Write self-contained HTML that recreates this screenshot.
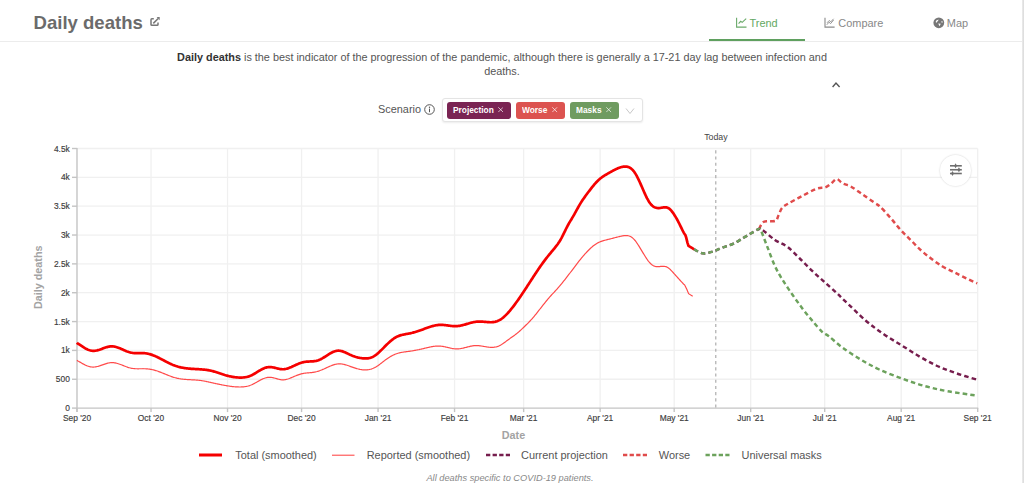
<!DOCTYPE html>
<html><head><meta charset="utf-8"><style>
*{box-sizing:border-box}
html,body{margin:0;padding:0;background:#fff}
body{width:1024px;height:483px;overflow:hidden;position:relative;font-family:"Liberation Sans",sans-serif;color:#555}
.abs{position:absolute;white-space:nowrap}
.title{left:33.6px;top:11.3px;font-size:18.55px;font-weight:bold;color:#6b6b6b;line-height:24px}
.sep{left:0;top:41px;width:1022px;height:1px;background:#ececec}
.rb{left:1022px;top:0;width:2px;height:483px;background:linear-gradient(to right,#ececec,#dadada)}
.tab{font-size:10.95px;color:#888;line-height:14px;top:15.8px}
.tab.on{color:#62a862}
.uline{left:708.5px;top:39px;width:96.5px;height:2px;background:#5fa05f}
.desc{left:0;width:1004px;top:49.7px;text-align:center;font-size:10.85px;line-height:14.3px;color:#555}
.desc b{color:#333}
.scn{left:378px;top:102.2px;font-size:10.9px;color:#555;line-height:14px}
.box{left:441.5px;top:98.2px;width:201px;height:23.5px;border:1px solid #e4e4e4;border-radius:3px;box-shadow:0 1px 2px rgba(0,0,0,0.08);background:#fff}
.chip{top:101.5px;height:17px;border-radius:3px;color:#fff;font-weight:bold;font-size:9.6px;line-height:17px;padding-left:6.3px}
.chip b{display:inline-block;transform:scaleX(0.87);transform-origin:0 50%;position:relative;top:-0.3px}
.chip svg{position:absolute;right:7.1px;top:5.7px}
svg text{font-family:"Liberation Sans",sans-serif}
.tk{font-size:8.4px;fill:#3c3c3c;stroke:#3c3c3c;stroke-width:0.15px}
.tdy{font-size:8.8px;fill:#444}
.axt{font-size:10.8px;fill:#a3a3a3;font-weight:bold}
.leg{top:449.2px;font-size:10.95px;color:#555;line-height:13px}
.foot{left:0;width:1020px;top:472.3px;text-align:center;font-size:9.25px;font-style:italic;color:#888;line-height:12px}
</style></head><body>
<div class="abs title">Daily deaths</div>
<svg class="abs" style="left:146px;top:13px" width="18" height="17" viewBox="0 0 18 17"><path d="M7.8,5.8 H5.9 Q5,5.8 5,6.7 V11.4 Q5,12.3 5.9,12.3 H11.1 Q12,12.3 12,11.4 V9.4" fill="none" stroke="#777" stroke-width="1.5"/><path d="M7.3,10.4 L12.2,5.5" stroke="#777" stroke-width="1.5"/><path d="M10.6,4.1 H13.7 V7.2 Z" fill="#777"/></svg>
<div class="abs sep"></div>
<div class="abs uline"></div>
<svg class="abs" style="left:735px;top:17px" width="12" height="11" viewBox="0 0 12 11"><path d="M1.6,0.8 V10.1 H11.5" fill="none" stroke="#6aaa6a" stroke-width="1.1"/><path d="M3.6,6.6 L5.7,4.3 L7.2,5.4 L11.2,1.6" fill="none" stroke="#6aaa6a" stroke-width="1.1"/></svg>
<div class="abs tab on" style="left:749.5px">Trend</div>
<svg class="abs" style="left:824px;top:17px" width="12" height="11" viewBox="0 0 12 11"><path d="M1,0.8 V10.1 H10.6" fill="none" stroke="#8a8a8a" stroke-width="1.1"/><path d="M2.8,7.8 L5,5.2 L6.6,6.6 L9.6,3 M3,5.8 L5.2,3.5 L6.8,4.8 L9.6,1.8" fill="none" stroke="#8a8a8a" stroke-width="0.9"/></svg>
<div class="abs tab" style="left:838.3px">Compare</div>
<svg class="abs" style="left:933px;top:17px" width="12" height="12" viewBox="0 0 12 12"><circle cx="5.8" cy="5.8" r="5.4" fill="#777"/><path d="M2.6,5 Q3,2.9 5.6,2.6 Q5.4,3.7 4.6,4.3 Q4,4.9 3.5,5.7 Z M5.2,6.5 L7.7,6.8 L6.6,9.3 Z M8.3,4.2 L9.8,4.4 L9.4,5.7 L8.5,5.5 Z" fill="#fff"/></svg>
<div class="abs tab" style="left:946.8px">Map</div>
<div class="abs desc"><b>Daily deaths</b> is the best indicator of the progression of the pandemic, although there is generally a 17-21 day lag between infection and<br>deaths.</div>
<svg class="abs" style="left:830.5px;top:81px" width="11" height="8" viewBox="0 0 11 8"><path d="M1.6,6 L5,2 L8.6,6" fill="none" stroke="#555" stroke-width="1.4"/></svg>
<div class="abs scn">Scenario</div>
<svg class="abs" style="left:424px;top:103.9px" width="11" height="11" viewBox="0 0 11 11"><circle cx="5.5" cy="5.5" r="4.8" fill="none" stroke="#555" stroke-width="1"/><circle cx="5.5" cy="3.3" r="0.7" fill="#555"/><rect x="5" y="4.6" width="1" height="3.6" fill="#555"/></svg>
<div class="abs box"></div>
<div class="abs chip" style="left:447.2px;width:63.4px;background:#7a2453"><b>Projection</b><svg width="5.4" height="5.4" viewBox="0 0 5.4 5.4"><path d="M0.3,0.3 L5.1,5.1 M5.1,0.3 L0.3,5.1" stroke="rgba(255,255,255,0.75)" stroke-width="0.9"/></svg></div>
<div class="abs chip" style="left:515.5px;width:49.3px;background:#dc5350"><b>Worse</b><svg width="5.4" height="5.4" viewBox="0 0 5.4 5.4"><path d="M0.3,0.3 L5.1,5.1 M5.1,0.3 L0.3,5.1" stroke="rgba(255,255,255,0.75)" stroke-width="0.9"/></svg></div>
<div class="abs chip" style="left:569.9px;width:48.8px;background:#6f9b60"><b>Masks</b><svg width="5.4" height="5.4" viewBox="0 0 5.4 5.4"><path d="M0.3,0.3 L5.1,5.1 M5.1,0.3 L0.3,5.1" stroke="rgba(255,255,255,0.75)" stroke-width="0.9"/></svg></div>
<svg class="abs" style="left:624.5px;top:106.5px" width="10" height="8" viewBox="0 0 10 8"><path d="M1,1.5 L5,6.5 L9,1.5" fill="none" stroke="#c8c8c8" stroke-width="1"/></svg>
<svg class="abs" style="left:0;top:0" width="1024" height="483" viewBox="0 0 1024 483">
<line x1="77.0" y1="379.26" x2="977.7" y2="379.26" stroke="#f0f0f0" stroke-width="1.3"/>
<line x1="77.0" y1="350.41" x2="977.7" y2="350.41" stroke="#f0f0f0" stroke-width="1.3"/>
<line x1="77.0" y1="321.57" x2="977.7" y2="321.57" stroke="#f0f0f0" stroke-width="1.3"/>
<line x1="77.0" y1="292.72" x2="977.7" y2="292.72" stroke="#f0f0f0" stroke-width="1.3"/>
<line x1="77.0" y1="263.88" x2="977.7" y2="263.88" stroke="#f0f0f0" stroke-width="1.3"/>
<line x1="77.0" y1="235.03" x2="977.7" y2="235.03" stroke="#f0f0f0" stroke-width="1.3"/>
<line x1="77.0" y1="206.19" x2="977.7" y2="206.19" stroke="#f0f0f0" stroke-width="1.3"/>
<line x1="77.0" y1="177.34" x2="977.7" y2="177.34" stroke="#f0f0f0" stroke-width="1.3"/>
<line x1="77.0" y1="148.50" x2="977.7" y2="148.50" stroke="#f0f0f0" stroke-width="1.3"/>
<line x1="151.03" y1="148.5" x2="151.03" y2="408.1" stroke="#f0f0f0" stroke-width="1.3"/>
<line x1="227.53" y1="148.5" x2="227.53" y2="408.1" stroke="#f0f0f0" stroke-width="1.3"/>
<line x1="301.56" y1="148.5" x2="301.56" y2="408.1" stroke="#f0f0f0" stroke-width="1.3"/>
<line x1="378.06" y1="148.5" x2="378.06" y2="408.1" stroke="#f0f0f0" stroke-width="1.3"/>
<line x1="454.55" y1="148.5" x2="454.55" y2="408.1" stroke="#f0f0f0" stroke-width="1.3"/>
<line x1="523.65" y1="148.5" x2="523.65" y2="408.1" stroke="#f0f0f0" stroke-width="1.3"/>
<line x1="600.15" y1="148.5" x2="600.15" y2="408.1" stroke="#f0f0f0" stroke-width="1.3"/>
<line x1="674.18" y1="148.5" x2="674.18" y2="408.1" stroke="#f0f0f0" stroke-width="1.3"/>
<line x1="750.67" y1="148.5" x2="750.67" y2="408.1" stroke="#f0f0f0" stroke-width="1.3"/>
<line x1="824.70" y1="148.5" x2="824.70" y2="408.1" stroke="#f0f0f0" stroke-width="1.3"/>
<line x1="901.20" y1="148.5" x2="901.20" y2="408.1" stroke="#f0f0f0" stroke-width="1.3"/>
<line x1="977.70" y1="148.5" x2="977.70" y2="408.1" stroke="#f0f0f0" stroke-width="1.3"/>
<line x1="77.0" y1="148.0" x2="77.0" y2="412.1" stroke="#c4c4c4" stroke-width="1.4"/>
<line x1="77.0" y1="408.1" x2="978.2" y2="408.1" stroke="#c4c4c4" stroke-width="1.4"/>
<line x1="72.0" y1="408.10" x2="77.0" y2="408.10" stroke="#c4c4c4" stroke-width="1.4"/>
<text x="69.8" y="411.1" text-anchor="end" class="tk">0</text>
<line x1="72.0" y1="379.26" x2="77.0" y2="379.26" stroke="#c4c4c4" stroke-width="1.4"/>
<text x="69.8" y="382.3" text-anchor="end" class="tk">500</text>
<line x1="72.0" y1="350.41" x2="77.0" y2="350.41" stroke="#c4c4c4" stroke-width="1.4"/>
<text x="69.8" y="353.4" text-anchor="end" class="tk">1k</text>
<line x1="72.0" y1="321.57" x2="77.0" y2="321.57" stroke="#c4c4c4" stroke-width="1.4"/>
<text x="69.8" y="324.6" text-anchor="end" class="tk">1.5k</text>
<line x1="72.0" y1="292.72" x2="77.0" y2="292.72" stroke="#c4c4c4" stroke-width="1.4"/>
<text x="69.8" y="295.7" text-anchor="end" class="tk">2k</text>
<line x1="72.0" y1="263.88" x2="77.0" y2="263.88" stroke="#c4c4c4" stroke-width="1.4"/>
<text x="69.8" y="266.9" text-anchor="end" class="tk">2.5k</text>
<line x1="72.0" y1="235.03" x2="77.0" y2="235.03" stroke="#c4c4c4" stroke-width="1.4"/>
<text x="69.8" y="238.0" text-anchor="end" class="tk">3k</text>
<line x1="72.0" y1="206.19" x2="77.0" y2="206.19" stroke="#c4c4c4" stroke-width="1.4"/>
<text x="69.8" y="209.2" text-anchor="end" class="tk">3.5k</text>
<line x1="72.0" y1="177.34" x2="77.0" y2="177.34" stroke="#c4c4c4" stroke-width="1.4"/>
<text x="69.8" y="180.3" text-anchor="end" class="tk">4k</text>
<line x1="72.0" y1="148.50" x2="77.0" y2="148.50" stroke="#c4c4c4" stroke-width="1.4"/>
<text x="69.8" y="151.5" text-anchor="end" class="tk">4.5k</text>
<line x1="77.00" y1="408.1" x2="77.00" y2="412.1" stroke="#c4c4c4" stroke-width="1.4"/>
<text x="77.0" y="420.8" text-anchor="middle" class="tk">Sep '20</text>
<line x1="151.03" y1="408.1" x2="151.03" y2="412.1" stroke="#c4c4c4" stroke-width="1.4"/>
<text x="151.0" y="420.8" text-anchor="middle" class="tk">Oct '20</text>
<line x1="227.53" y1="408.1" x2="227.53" y2="412.1" stroke="#c4c4c4" stroke-width="1.4"/>
<text x="227.5" y="420.8" text-anchor="middle" class="tk">Nov '20</text>
<line x1="301.56" y1="408.1" x2="301.56" y2="412.1" stroke="#c4c4c4" stroke-width="1.4"/>
<text x="301.6" y="420.8" text-anchor="middle" class="tk">Dec '20</text>
<line x1="378.06" y1="408.1" x2="378.06" y2="412.1" stroke="#c4c4c4" stroke-width="1.4"/>
<text x="378.1" y="420.8" text-anchor="middle" class="tk">Jan '21</text>
<line x1="454.55" y1="408.1" x2="454.55" y2="412.1" stroke="#c4c4c4" stroke-width="1.4"/>
<text x="454.6" y="420.8" text-anchor="middle" class="tk">Feb '21</text>
<line x1="523.65" y1="408.1" x2="523.65" y2="412.1" stroke="#c4c4c4" stroke-width="1.4"/>
<text x="523.6" y="420.8" text-anchor="middle" class="tk">Mar '21</text>
<line x1="600.15" y1="408.1" x2="600.15" y2="412.1" stroke="#c4c4c4" stroke-width="1.4"/>
<text x="600.1" y="420.8" text-anchor="middle" class="tk">Apr '21</text>
<line x1="674.18" y1="408.1" x2="674.18" y2="412.1" stroke="#c4c4c4" stroke-width="1.4"/>
<text x="674.2" y="420.8" text-anchor="middle" class="tk">May '21</text>
<line x1="750.67" y1="408.1" x2="750.67" y2="412.1" stroke="#c4c4c4" stroke-width="1.4"/>
<text x="750.7" y="420.8" text-anchor="middle" class="tk">Jun '21</text>
<line x1="824.70" y1="408.1" x2="824.70" y2="412.1" stroke="#c4c4c4" stroke-width="1.4"/>
<text x="824.7" y="420.8" text-anchor="middle" class="tk">Jul '21</text>
<line x1="901.20" y1="408.1" x2="901.20" y2="412.1" stroke="#c4c4c4" stroke-width="1.4"/>
<text x="901.2" y="420.8" text-anchor="middle" class="tk">Aug '21</text>
<line x1="977.70" y1="408.1" x2="977.70" y2="412.1" stroke="#c4c4c4" stroke-width="1.4"/>
<text x="977.7" y="420.8" text-anchor="middle" class="tk">Sep '21</text>
<line x1="715.8" y1="150.3" x2="715.8" y2="408" stroke="#a5a5a5" stroke-width="1.1" stroke-dasharray="3.1,3.1"/>
<text x="715.9" y="140.3" text-anchor="middle" class="tdy">Today</text>
<path d="M77.00,360.20 L77.75,360.98 L78.50,361.32 L79.25,361.71 L80.00,362.13 L80.75,362.57 L81.50,363.00 L82.25,363.44 L83.00,363.86 L83.75,364.26 L84.50,364.64 L85.25,365.01 L86.00,365.35 L86.75,365.66 L87.50,365.95 L88.25,366.21 L89.00,366.44 L89.75,366.63 L90.50,366.79 L91.25,366.92 L92.00,367.00 L92.75,367.05 L93.50,367.05 L94.25,367.02 L95.00,366.95 L95.75,366.84 L96.50,366.71 L97.25,366.54 L98.00,366.35 L98.75,366.14 L99.50,365.90 L100.25,365.66 L101.00,365.40 L101.75,365.13 L102.50,364.87 L103.25,364.60 L104.00,364.33 L104.75,364.07 L105.50,363.82 L106.25,363.59 L107.00,363.37 L107.75,363.18 L108.50,363.01 L109.25,362.86 L110.00,362.75 L110.75,362.67 L111.50,362.63 L112.25,362.62 L113.00,362.65 L113.75,362.72 L114.50,362.81 L115.25,362.94 L116.00,363.10 L116.75,363.28 L117.50,363.49 L118.25,363.71 L119.00,363.96 L119.75,364.22 L120.50,364.49 L121.25,364.77 L122.00,365.06 L122.75,365.36 L123.50,365.65 L124.25,365.95 L125.00,366.24 L125.75,366.53 L126.50,366.81 L127.25,367.07 L128.00,367.33 L128.75,367.56 L129.50,367.78 L130.25,367.97 L131.00,368.15 L131.75,368.30 L132.50,368.43 L133.25,368.53 L134.00,368.62 L134.75,368.68 L135.50,368.73 L136.25,368.76 L137.00,368.77 L137.75,368.78 L138.51,368.78 L139.26,368.77 L140.01,368.76 L140.76,368.75 L141.51,368.74 L142.26,368.73 L143.01,368.72 L143.76,368.73 L144.51,368.74 L145.26,368.76 L146.01,368.80 L146.76,368.85 L147.51,368.91 L148.26,368.98 L149.01,369.07 L149.76,369.18 L150.51,369.29 L151.26,369.43 L152.01,369.58 L152.76,369.75 L153.51,369.93 L154.26,370.12 L155.01,370.33 L155.76,370.56 L156.51,370.80 L157.26,371.04 L158.01,371.30 L158.76,371.57 L159.51,371.85 L160.26,372.13 L161.01,372.42 L161.76,372.72 L162.51,373.02 L163.26,373.32 L164.01,373.63 L164.76,373.93 L165.51,374.24 L166.26,374.55 L167.01,374.85 L167.76,375.15 L168.51,375.45 L169.26,375.74 L170.01,376.02 L170.76,376.30 L171.51,376.57 L172.26,376.83 L173.01,377.08 L173.76,377.31 L174.51,377.54 L175.26,377.75 L176.01,377.95 L176.76,378.14 L177.51,378.31 L178.26,378.46 L179.01,378.61 L179.76,378.74 L180.51,378.86 L181.26,378.97 L182.01,379.07 L182.76,379.16 L183.51,379.24 L184.26,379.31 L185.01,379.38 L185.76,379.43 L186.51,379.49 L187.26,379.54 L188.01,379.58 L188.76,379.63 L189.51,379.67 L190.26,379.70 L191.01,379.74 L191.76,379.78 L192.51,379.82 L193.26,379.86 L194.01,379.90 L194.76,379.95 L195.51,380.00 L196.26,380.06 L197.01,380.12 L197.76,380.19 L198.51,380.26 L199.26,380.34 L200.01,380.43 L200.76,380.53 L201.51,380.64 L202.26,380.75 L203.01,380.87 L203.76,381.00 L204.51,381.14 L205.26,381.28 L206.01,381.42 L206.76,381.58 L207.51,381.73 L208.26,381.89 L209.01,382.05 L209.76,382.22 L210.51,382.38 L211.26,382.55 L212.01,382.72 L212.76,382.88 L213.51,383.05 L214.26,383.22 L215.01,383.39 L215.76,383.55 L216.51,383.72 L217.26,383.88 L218.01,384.04 L218.76,384.20 L219.51,384.36 L220.26,384.52 L221.01,384.67 L221.76,384.82 L222.51,384.97 L223.26,385.12 L224.01,385.26 L224.76,385.40 L225.51,385.53 L226.26,385.66 L227.01,385.79 L227.76,385.91 L228.51,386.03 L229.26,386.14 L230.01,386.24 L230.76,386.34 L231.51,386.44 L232.26,386.53 L233.01,386.61 L233.76,386.69 L234.51,386.75 L235.26,386.81 L236.01,386.87 L236.76,386.91 L237.51,386.95 L238.26,386.97 L239.01,386.99 L239.76,387.00 L240.51,386.99 L241.26,386.97 L242.01,386.94 L242.76,386.89 L243.51,386.83 L244.26,386.75 L245.01,386.64 L245.76,386.52 L246.51,386.38 L247.26,386.22 L248.01,386.03 L248.76,385.82 L249.51,385.58 L250.26,385.31 L251.01,385.02 L251.76,384.71 L252.51,384.37 L253.26,384.00 L254.01,383.62 L254.76,383.23 L255.51,382.82 L256.26,382.40 L257.01,381.97 L257.76,381.54 L258.51,381.12 L259.26,380.70 L260.02,380.29 L260.77,379.89 L261.52,379.51 L262.27,379.14 L263.02,378.80 L263.77,378.49 L264.52,378.20 L265.27,377.95 L266.02,377.74 L266.77,377.56 L267.52,377.42 L268.27,377.33 L269.02,377.28 L269.77,377.27 L270.52,377.31 L271.27,377.38 L272.02,377.50 L272.77,377.64 L273.52,377.81 L274.27,378.01 L275.02,378.22 L275.77,378.43 L276.52,378.65 L277.27,378.87 L278.02,379.08 L278.77,379.28 L279.52,379.45 L280.27,379.60 L281.02,379.71 L281.77,379.79 L282.52,379.84 L283.27,379.84 L284.02,379.79 L284.77,379.71 L285.52,379.59 L286.27,379.43 L287.02,379.24 L287.77,379.02 L288.52,378.77 L289.27,378.50 L290.02,378.21 L290.77,377.91 L291.52,377.60 L292.27,377.28 L293.02,376.96 L293.77,376.64 L294.52,376.32 L295.27,376.00 L296.02,375.69 L296.77,375.39 L297.52,375.10 L298.27,374.83 L299.02,374.57 L299.77,374.32 L300.52,374.10 L301.27,373.89 L302.02,373.71 L302.77,373.55 L303.52,373.41 L304.27,373.28 L305.02,373.18 L305.77,373.09 L306.52,373.01 L307.27,372.94 L308.02,372.88 L308.77,372.82 L309.52,372.76 L310.27,372.69 L311.02,372.62 L311.77,372.54 L312.52,372.44 L313.27,372.33 L314.02,372.20 L314.77,372.06 L315.52,371.90 L316.27,371.72 L317.02,371.52 L317.77,371.30 L318.52,371.07 L319.27,370.81 L320.02,370.55 L320.77,370.26 L321.52,369.97 L322.27,369.66 L323.02,369.34 L323.77,369.02 L324.52,368.68 L325.27,368.35 L326.02,368.01 L326.77,367.66 L327.52,367.32 L328.27,366.98 L329.02,366.65 L329.77,366.32 L330.52,366.00 L331.27,365.70 L332.02,365.40 L332.77,365.13 L333.52,364.87 L334.27,364.64 L335.02,364.43 L335.77,364.25 L336.52,364.10 L337.27,363.98 L338.02,363.89 L338.77,363.84 L339.52,363.83 L340.27,363.85 L341.02,363.90 L341.77,363.99 L342.52,364.10 L343.27,364.25 L344.02,364.41 L344.77,364.60 L345.52,364.81 L346.27,365.04 L347.02,365.28 L347.77,365.53 L348.52,365.79 L349.27,366.05 L350.02,366.32 L350.77,366.59 L351.52,366.85 L352.27,367.12 L353.02,367.38 L353.77,367.63 L354.52,367.88 L355.27,368.12 L356.02,368.35 L356.77,368.57 L357.52,368.78 L358.27,368.97 L359.02,369.15 L359.77,369.32 L360.52,369.47 L361.27,369.59 L362.02,369.70 L362.77,369.79 L363.52,369.86 L364.27,369.90 L365.02,369.91 L365.77,369.91 L366.52,369.87 L367.27,369.81 L368.02,369.72 L368.77,369.60 L369.52,369.46 L370.27,369.28 L371.02,369.07 L371.77,368.83 L372.52,368.56 L373.27,368.25 L374.02,367.91 L374.77,367.54 L375.52,367.14 L376.27,366.70 L377.02,366.23 L377.77,365.74 L378.52,365.21 L379.27,364.67 L380.02,364.11 L380.77,363.54 L381.53,362.95 L382.28,362.37 L383.03,361.78 L383.78,361.20 L384.53,360.62 L385.28,360.06 L386.03,359.51 L386.78,358.97 L387.53,358.45 L388.28,357.94 L389.03,357.46 L389.78,356.99 L390.53,356.54 L391.28,356.11 L392.03,355.71 L392.78,355.32 L393.53,354.96 L394.28,354.62 L395.03,354.30 L395.78,354.00 L396.53,353.73 L397.28,353.48 L398.03,353.25 L398.78,353.04 L399.53,352.85 L400.28,352.68 L401.03,352.52 L401.78,352.38 L402.53,352.24 L403.28,352.12 L404.03,352.01 L404.78,351.90 L405.53,351.80 L406.28,351.70 L407.03,351.60 L407.78,351.50 L408.53,351.40 L409.28,351.30 L410.03,351.19 L410.78,351.08 L411.53,350.97 L412.28,350.85 L413.03,350.72 L413.78,350.59 L414.53,350.46 L415.28,350.32 L416.03,350.18 L416.78,350.03 L417.53,349.88 L418.28,349.72 L419.03,349.57 L419.78,349.40 L420.53,349.24 L421.28,349.07 L422.03,348.90 L422.78,348.73 L423.53,348.56 L424.28,348.38 L425.03,348.21 L425.78,348.03 L426.53,347.85 L427.28,347.67 L428.03,347.50 L428.78,347.33 L429.53,347.16 L430.28,347.00 L431.03,346.84 L431.78,346.70 L432.53,346.56 L433.28,346.44 L434.03,346.33 L434.78,346.23 L435.53,346.15 L436.28,346.09 L437.03,346.05 L437.78,346.03 L438.53,346.02 L439.28,346.04 L440.03,346.09 L440.78,346.15 L441.53,346.23 L442.28,346.34 L443.03,346.46 L443.78,346.60 L444.53,346.75 L445.28,346.91 L446.03,347.08 L446.78,347.25 L447.53,347.43 L448.28,347.61 L449.03,347.79 L449.78,347.96 L450.53,348.13 L451.28,348.28 L452.03,348.43 L452.78,348.56 L453.53,348.67 L454.28,348.76 L455.03,348.83 L455.78,348.88 L456.53,348.90 L457.28,348.90 L458.03,348.87 L458.78,348.81 L459.53,348.73 L460.28,348.63 L461.03,348.51 L461.78,348.37 L462.53,348.22 L463.28,348.05 L464.03,347.87 L464.78,347.69 L465.53,347.50 L466.28,347.30 L467.03,347.11 L467.78,346.92 L468.53,346.73 L469.28,346.54 L470.03,346.37 L470.78,346.21 L471.53,346.06 L472.28,345.93 L473.03,345.81 L473.78,345.72 L474.53,345.65 L475.28,345.60 L476.03,345.58 L476.78,345.58 L477.53,345.60 L478.28,345.64 L479.03,345.71 L479.78,345.79 L480.53,345.88 L481.28,345.99 L482.03,346.10 L482.78,346.23 L483.53,346.35 L484.28,346.48 L485.03,346.61 L485.78,346.74 L486.53,346.86 L487.28,346.97 L488.03,347.07 L488.78,347.16 L489.53,347.23 L490.28,347.29 L491.03,347.32 L491.78,347.33 L492.53,347.32 L493.28,347.28 L494.03,347.21 L494.78,347.11 L495.53,346.97 L496.28,346.81 L497.03,346.60 L497.78,346.36 L498.53,346.08 L499.28,345.76 L500.03,345.40 L500.78,344.99 L501.53,344.55 L502.28,344.08 L503.04,343.57 L503.79,343.04 L504.54,342.49 L505.29,341.93 L506.04,341.37 L506.79,340.80 L507.54,340.25 L508.29,339.70 L509.04,339.16 L509.79,338.63 L510.54,338.11 L511.29,337.59 L512.04,337.07 L512.79,336.54 L513.54,336.00 L514.29,335.45 L515.04,334.89 L515.79,334.31 L516.54,333.71 L517.29,333.10 L518.04,332.48 L518.79,331.84 L519.54,331.18 L520.29,330.51 L521.04,329.83 L521.79,329.14 L522.54,328.43 L523.29,327.72 L524.04,327.00 L524.79,326.27 L525.54,325.54 L526.29,324.80 L527.04,324.06 L527.79,323.31 L528.54,322.55 L529.29,321.78 L530.04,321.00 L530.79,320.19 L531.54,319.37 L532.29,318.53 L533.04,317.67 L533.79,316.78 L534.54,315.88 L535.29,314.96 L536.04,314.02 L536.79,313.08 L537.54,312.13 L538.29,311.17 L539.04,310.21 L539.79,309.25 L540.54,308.29 L541.29,307.33 L542.04,306.38 L542.79,305.43 L543.54,304.48 L544.29,303.54 L545.04,302.60 L545.79,301.67 L546.54,300.75 L547.29,299.84 L548.04,298.94 L548.79,298.06 L549.54,297.20 L550.29,296.35 L551.04,295.51 L551.79,294.69 L552.54,293.89 L553.29,293.09 L554.04,292.29 L554.79,291.49 L555.54,290.69 L556.29,289.88 L557.04,289.05 L557.79,288.21 L558.54,287.35 L559.29,286.48 L560.04,285.59 L560.79,284.69 L561.54,283.77 L562.29,282.85 L563.04,281.91 L563.79,280.97 L564.54,280.02 L565.29,279.06 L566.04,278.10 L566.79,277.13 L567.54,276.17 L568.29,275.20 L569.04,274.22 L569.79,273.24 L570.54,272.26 L571.29,271.28 L572.04,270.29 L572.79,269.30 L573.54,268.31 L574.29,267.32 L575.04,266.32 L575.79,265.33 L576.54,264.35 L577.29,263.36 L578.04,262.39 L578.79,261.42 L579.54,260.47 L580.29,259.53 L581.04,258.60 L581.79,257.68 L582.54,256.78 L583.29,255.90 L584.04,255.04 L584.79,254.19 L585.54,253.36 L586.29,252.54 L587.04,251.75 L587.79,250.97 L588.54,250.21 L589.29,249.46 L590.04,248.74 L590.79,248.04 L591.54,247.36 L592.29,246.71 L593.04,246.08 L593.79,245.48 L594.54,244.92 L595.29,244.39 L596.04,243.90 L596.79,243.44 L597.54,243.02 L598.29,242.63 L599.04,242.28 L599.79,241.95 L600.54,241.65 L601.29,241.37 L602.04,241.11 L602.79,240.87 L603.54,240.64 L604.29,240.42 L605.04,240.22 L605.79,240.02 L606.54,239.83 L607.29,239.64 L608.04,239.45 L608.79,239.27 L609.54,239.08 L610.29,238.89 L611.04,238.71 L611.79,238.52 L612.54,238.32 L613.29,238.13 L614.04,237.93 L614.79,237.74 L615.54,237.54 L616.29,237.35 L617.04,237.16 L617.79,236.96 L618.54,236.78 L619.29,236.59 L620.04,236.41 L620.79,236.24 L621.54,236.08 L622.29,235.93 L623.04,235.80 L623.79,235.70 L624.55,235.61 L625.30,235.56 L626.05,235.55 L626.80,235.57 L627.55,235.65 L628.30,235.78 L629.05,235.97 L629.80,236.23 L630.55,236.57 L631.30,237.00 L632.05,237.51 L632.80,238.12 L633.55,238.82 L634.30,239.61 L635.05,240.49 L635.80,241.46 L636.55,242.50 L637.30,243.60 L638.05,244.74 L638.80,245.92 L639.55,247.13 L640.30,248.35 L641.05,249.59 L641.80,250.83 L642.55,252.08 L643.30,253.32 L644.05,254.55 L644.80,255.77 L645.55,256.96 L646.30,258.11 L647.05,259.22 L647.80,260.28 L648.55,261.27 L649.30,262.19 L650.05,263.03 L650.80,263.79 L651.55,264.45 L652.30,265.03 L653.05,265.52 L653.80,265.91 L654.55,266.21 L655.30,266.43 L656.05,266.57 L656.80,266.64 L657.55,266.66 L658.30,266.64 L659.05,266.59 L659.80,266.53 L660.55,266.46 L661.30,266.39 L662.05,266.34 L662.80,266.31 L663.55,266.32 L664.30,266.36 L665.05,266.47 L665.80,266.64 L666.55,266.90 L667.30,267.25 L668.05,267.69 L668.80,268.22 L669.55,268.84 L670.30,269.54 L671.05,270.30 L671.80,271.09 L672.55,271.92 L673.30,272.76 L674.05,273.60 L674.80,274.44 L675.55,275.27 L676.30,276.10 L677.05,276.92 L677.80,277.75 L678.55,278.57 L679.30,279.40 L680.05,280.23 L680.80,281.06 L681.55,281.89 L682.30,282.70 L683.05,283.48 L683.80,284.18 L684.55,284.80 L685.30,286.20 L685.3,286.2 L686.9,289.5 L688.6,293.7 L692.7,296.2" fill="none" stroke="#ff4a4a" stroke-width="1.2"/>
<path d="M77.00,342.70 L77.75,343.61 L78.50,344.01 L79.25,344.46 L80.00,344.95 L80.75,345.46 L81.50,345.97 L82.25,346.48 L83.00,346.97 L83.75,347.44 L84.50,347.89 L85.25,348.32 L86.00,348.73 L86.75,349.10 L87.50,349.44 L88.25,349.76 L89.00,350.03 L89.75,350.27 L90.50,350.47 L91.25,350.63 L92.00,350.74 L92.75,350.81 L93.50,350.84 L94.25,350.82 L95.00,350.77 L95.75,350.67 L96.50,350.54 L97.25,350.37 L98.00,350.17 L98.75,349.96 L99.50,349.72 L100.25,349.46 L101.00,349.19 L101.75,348.91 L102.50,348.63 L103.25,348.35 L104.00,348.07 L104.75,347.80 L105.50,347.54 L106.25,347.29 L107.00,347.07 L107.76,346.87 L108.51,346.70 L109.26,346.56 L110.01,346.45 L110.76,346.38 L111.51,346.35 L112.26,346.36 L113.01,346.41 L113.76,346.50 L114.51,346.62 L115.26,346.78 L116.01,346.97 L116.76,347.19 L117.51,347.43 L118.26,347.70 L119.01,347.99 L119.76,348.29 L120.51,348.60 L121.26,348.93 L122.01,349.26 L122.76,349.59 L123.51,349.93 L124.26,350.26 L125.01,350.59 L125.76,350.90 L126.51,351.21 L127.26,351.50 L128.01,351.77 L128.76,352.03 L129.51,352.25 L130.26,352.46 L131.01,352.63 L131.76,352.78 L132.51,352.90 L133.26,352.99 L134.01,353.06 L134.76,353.11 L135.51,353.13 L136.26,353.14 L137.01,353.14 L137.76,353.13 L138.51,353.12 L139.26,353.10 L140.01,353.08 L140.76,353.07 L141.51,353.06 L142.26,353.07 L143.01,353.09 L143.76,353.12 L144.51,353.18 L145.26,353.25 L146.01,353.35 L146.76,353.47 L147.51,353.61 L148.26,353.77 L149.01,353.95 L149.76,354.15 L150.51,354.37 L151.26,354.61 L152.01,354.87 L152.76,355.14 L153.51,355.43 L154.26,355.74 L155.01,356.05 L155.76,356.38 L156.51,356.73 L157.26,357.08 L158.01,357.44 L158.76,357.81 L159.51,358.19 L160.26,358.58 L161.01,358.96 L161.76,359.36 L162.51,359.75 L163.26,360.15 L164.01,360.55 L164.76,360.94 L165.51,361.34 L166.26,361.73 L167.01,362.12 L167.76,362.50 L168.52,362.88 L169.27,363.24 L170.02,363.60 L170.77,363.96 L171.52,364.30 L172.27,364.62 L173.02,364.94 L173.77,365.24 L174.52,365.53 L175.27,365.80 L176.02,366.06 L176.77,366.30 L177.52,366.53 L178.27,366.75 L179.02,366.95 L179.77,367.14 L180.52,367.32 L181.27,367.49 L182.02,367.64 L182.77,367.78 L183.52,367.91 L184.27,368.04 L185.02,368.15 L185.77,368.25 L186.52,368.35 L187.27,368.44 L188.02,368.52 L188.77,368.59 L189.52,368.66 L190.27,368.72 L191.02,368.78 L191.77,368.83 L192.52,368.88 L193.27,368.93 L194.02,368.97 L194.77,369.01 L195.52,369.06 L196.27,369.10 L197.02,369.14 L197.77,369.18 L198.52,369.22 L199.27,369.27 L200.02,369.31 L200.77,369.36 L201.52,369.42 L202.27,369.48 L203.02,369.54 L203.77,369.61 L204.52,369.69 L205.27,369.77 L206.02,369.86 L206.77,369.96 L207.52,370.07 L208.27,370.20 L209.02,370.33 L209.77,370.47 L210.52,370.62 L211.27,370.79 L212.02,370.97 L212.77,371.16 L213.52,371.36 L214.27,371.58 L215.02,371.80 L215.77,372.03 L216.52,372.26 L217.27,372.51 L218.02,372.75 L218.77,373.01 L219.52,373.26 L220.27,373.51 L221.02,373.77 L221.77,374.02 L222.52,374.27 L223.27,374.51 L224.02,374.75 L224.77,374.99 L225.52,375.21 L226.27,375.43 L227.02,375.64 L227.77,375.84 L228.52,376.03 L229.28,376.21 L230.03,376.38 L230.78,376.54 L231.53,376.68 L232.28,376.82 L233.03,376.94 L233.78,377.06 L234.53,377.16 L235.28,377.25 L236.03,377.33 L236.78,377.40 L237.53,377.46 L238.28,377.50 L239.03,377.54 L239.78,377.56 L240.53,377.56 L241.28,377.55 L242.03,377.53 L242.78,377.49 L243.53,377.43 L244.28,377.35 L245.03,377.25 L245.78,377.13 L246.53,376.98 L247.28,376.81 L248.03,376.61 L248.78,376.38 L249.53,376.12 L250.28,375.83 L251.03,375.51 L251.78,375.16 L252.53,374.79 L253.28,374.38 L254.03,373.96 L254.78,373.52 L255.53,373.06 L256.28,372.60 L257.03,372.13 L257.78,371.66 L258.53,371.20 L259.28,370.74 L260.03,370.30 L260.78,369.87 L261.53,369.47 L262.28,369.08 L263.03,368.72 L263.78,368.39 L264.53,368.09 L265.28,367.83 L266.03,367.60 L266.78,367.41 L267.53,367.25 L268.28,367.15 L269.03,367.08 L269.78,367.06 L270.53,367.07 L271.28,367.13 L272.03,367.22 L272.78,367.35 L273.53,367.49 L274.28,367.66 L275.03,367.85 L275.78,368.04 L276.53,368.23 L277.28,368.43 L278.03,368.61 L278.78,368.78 L279.53,368.93 L280.28,369.06 L281.03,369.16 L281.78,369.22 L282.53,369.25 L283.28,369.23 L284.03,369.18 L284.78,369.09 L285.53,368.96 L286.28,368.80 L287.03,368.60 L287.78,368.37 L288.53,368.12 L289.28,367.84 L290.03,367.54 L290.79,367.23 L291.54,366.91 L292.29,366.57 L293.04,366.23 L293.79,365.88 L294.54,365.54 L295.29,365.19 L296.04,364.85 L296.79,364.51 L297.54,364.19 L298.29,363.87 L299.04,363.57 L299.79,363.28 L300.54,363.01 L301.29,362.76 L302.04,362.54 L302.79,362.33 L303.54,362.15 L304.29,362.00 L305.04,361.87 L305.79,361.77 L306.54,361.68 L307.29,361.62 L308.04,361.56 L308.79,361.53 L309.54,361.49 L310.29,361.46 L311.04,361.43 L311.79,361.40 L312.54,361.35 L313.29,361.29 L314.04,361.21 L314.79,361.12 L315.54,360.99 L316.29,360.84 L317.04,360.65 L317.79,360.43 L318.54,360.17 L319.29,359.88 L320.04,359.55 L320.79,359.19 L321.54,358.79 L322.29,358.38 L323.04,357.94 L323.79,357.48 L324.54,357.00 L325.29,356.52 L326.04,356.03 L326.79,355.54 L327.54,355.06 L328.29,354.58 L329.04,354.12 L329.79,353.66 L330.54,353.23 L331.29,352.82 L332.04,352.44 L332.79,352.08 L333.54,351.76 L334.29,351.47 L335.04,351.23 L335.79,351.02 L336.54,350.86 L337.29,350.75 L338.04,350.70 L338.79,350.69 L339.54,350.73 L340.29,350.82 L341.04,350.97 L341.79,351.15 L342.54,351.38 L343.29,351.64 L344.04,351.93 L344.79,352.25 L345.54,352.58 L346.29,352.93 L347.04,353.29 L347.79,353.65 L348.54,354.01 L349.29,354.37 L350.04,354.72 L350.79,355.05 L351.55,355.37 L352.30,355.68 L353.05,355.98 L353.80,356.25 L354.55,356.52 L355.30,356.76 L356.05,356.99 L356.80,357.20 L357.55,357.40 L358.30,357.58 L359.05,357.74 L359.80,357.89 L360.55,358.02 L361.30,358.13 L362.05,358.23 L362.80,358.31 L363.55,358.37 L364.30,358.42 L365.05,358.44 L365.80,358.44 L366.55,358.42 L367.30,358.37 L368.05,358.29 L368.80,358.18 L369.55,358.02 L370.30,357.83 L371.05,357.60 L371.80,357.32 L372.55,356.99 L373.30,356.61 L374.05,356.18 L374.80,355.70 L375.55,355.18 L376.30,354.62 L377.05,354.02 L377.80,353.39 L378.55,352.72 L379.30,352.03 L380.05,351.32 L380.80,350.59 L381.55,349.85 L382.30,349.10 L383.05,348.34 L383.80,347.58 L384.55,346.82 L385.30,346.07 L386.05,345.32 L386.80,344.58 L387.55,343.85 L388.30,343.13 L389.05,342.44 L389.80,341.76 L390.55,341.10 L391.30,340.47 L392.05,339.86 L392.80,339.28 L393.55,338.74 L394.30,338.22 L395.05,337.74 L395.80,337.30 L396.55,336.89 L397.30,336.52 L398.05,336.19 L398.80,335.88 L399.55,335.61 L400.30,335.36 L401.05,335.14 L401.80,334.95 L402.55,334.76 L403.30,334.60 L404.05,334.45 L404.80,334.31 L405.55,334.17 L406.30,334.04 L407.05,333.90 L407.80,333.77 L408.55,333.63 L409.30,333.48 L410.05,333.33 L410.80,333.17 L411.55,332.99 L412.31,332.81 L413.06,332.61 L413.81,332.41 L414.56,332.20 L415.31,331.98 L416.06,331.75 L416.81,331.51 L417.56,331.27 L418.31,331.02 L419.06,330.76 L419.81,330.50 L420.56,330.23 L421.31,329.96 L422.06,329.69 L422.81,329.42 L423.56,329.14 L424.31,328.86 L425.06,328.59 L425.81,328.31 L426.56,328.04 L427.31,327.77 L428.06,327.50 L428.81,327.25 L429.56,326.99 L430.31,326.75 L431.06,326.52 L431.81,326.30 L432.56,326.09 L433.31,325.89 L434.06,325.70 L434.81,325.54 L435.56,325.38 L436.31,325.25 L437.06,325.13 L437.81,325.04 L438.56,324.96 L439.31,324.91 L440.06,324.88 L440.81,324.86 L441.56,324.87 L442.31,324.90 L443.06,324.94 L443.81,325.00 L444.56,325.07 L445.31,325.16 L446.06,325.25 L446.81,325.34 L447.56,325.44 L448.31,325.55 L449.06,325.65 L449.81,325.75 L450.56,325.84 L451.31,325.93 L452.06,326.00 L452.81,326.07 L453.56,326.12 L454.31,326.15 L455.06,326.17 L455.81,326.16 L456.56,326.13 L457.31,326.09 L458.06,326.02 L458.81,325.92 L459.56,325.81 L460.31,325.68 L461.06,325.53 L461.81,325.36 L462.56,325.18 L463.31,324.99 L464.06,324.79 L464.81,324.58 L465.56,324.36 L466.31,324.14 L467.06,323.91 L467.81,323.69 L468.56,323.46 L469.31,323.24 L470.06,323.03 L470.81,322.82 L471.56,322.62 L472.31,322.44 L473.07,322.26 L473.82,322.10 L474.57,321.96 L475.32,321.84 L476.07,321.73 L476.82,321.65 L477.57,321.59 L478.32,321.54 L479.07,321.53 L479.82,321.53 L480.57,321.54 L481.32,321.58 L482.07,321.62 L482.82,321.68 L483.57,321.75 L484.32,321.82 L485.07,321.89 L485.82,321.96 L486.57,322.03 L487.32,322.09 L488.07,322.15 L488.82,322.19 L489.57,322.22 L490.32,322.23 L491.07,322.23 L491.82,322.20 L492.57,322.15 L493.32,322.07 L494.07,321.96 L494.82,321.81 L495.57,321.64 L496.32,321.42 L497.07,321.17 L497.82,320.88 L498.57,320.55 L499.32,320.17 L500.07,319.75 L500.82,319.29 L501.57,318.78 L502.32,318.23 L503.07,317.64 L503.82,317.01 L504.57,316.34 L505.32,315.63 L506.07,314.89 L506.82,314.12 L507.57,313.32 L508.32,312.49 L509.07,311.64 L509.82,310.76 L510.57,309.87 L511.32,308.95 L512.07,308.01 L512.82,307.05 L513.57,306.08 L514.32,305.09 L515.07,304.09 L515.82,303.07 L516.57,302.04 L517.32,301.00 L518.07,299.94 L518.82,298.87 L519.57,297.79 L520.32,296.70 L521.07,295.59 L521.82,294.48 L522.57,293.36 L523.32,292.23 L524.07,291.09 L524.82,289.95 L525.57,288.80 L526.32,287.65 L527.07,286.50 L527.82,285.34 L528.57,284.19 L529.32,283.03 L530.07,281.87 L530.82,280.71 L531.57,279.55 L532.32,278.40 L533.07,277.25 L533.83,276.10 L534.58,274.95 L535.33,273.81 L536.08,272.68 L536.83,271.55 L537.58,270.44 L538.33,269.33 L539.08,268.23 L539.83,267.14 L540.58,266.06 L541.33,265.00 L542.08,263.95 L542.83,262.91 L543.58,261.88 L544.33,260.87 L545.08,259.87 L545.83,258.89 L546.58,257.92 L547.33,256.97 L548.08,256.03 L548.83,255.10 L549.58,254.18 L550.33,253.27 L551.08,252.37 L551.83,251.47 L552.58,250.58 L553.33,249.67 L554.08,248.77 L554.83,247.85 L555.58,246.91 L556.33,245.95 L557.08,244.96 L557.83,243.93 L558.58,242.84 L559.33,241.70 L560.08,240.49 L560.83,239.20 L561.58,237.84 L562.33,236.40 L563.08,234.91 L563.83,233.38 L564.58,231.83 L565.33,230.29 L566.08,228.77 L566.83,227.30 L567.58,225.88 L568.33,224.51 L569.08,223.20 L569.83,221.92 L570.58,220.67 L571.33,219.43 L572.08,218.18 L572.83,216.91 L573.58,215.62 L574.33,214.30 L575.08,212.95 L575.83,211.59 L576.58,210.22 L577.33,208.85 L578.08,207.50 L578.83,206.17 L579.58,204.88 L580.33,203.63 L581.08,202.41 L581.83,201.24 L582.58,200.10 L583.33,199.00 L584.08,197.92 L584.83,196.87 L585.58,195.83 L586.33,194.81 L587.08,193.79 L587.83,192.79 L588.58,191.80 L589.33,190.81 L590.08,189.84 L590.83,188.87 L591.58,187.91 L592.33,186.96 L593.08,186.03 L593.83,185.12 L594.58,184.23 L595.34,183.36 L596.09,182.52 L596.84,181.72 L597.59,180.96 L598.34,180.23 L599.09,179.55 L599.84,178.90 L600.59,178.28 L601.34,177.71 L602.09,177.16 L602.84,176.64 L603.59,176.14 L604.34,175.65 L605.09,175.19 L605.84,174.73 L606.59,174.29 L607.34,173.86 L608.09,173.43 L608.84,173.00 L609.59,172.58 L610.34,172.17 L611.09,171.76 L611.84,171.35 L612.59,170.94 L613.34,170.54 L614.09,170.15 L614.84,169.76 L615.59,169.38 L616.34,169.01 L617.09,168.65 L617.84,168.32 L618.59,168.00 L619.34,167.71 L620.09,167.44 L620.84,167.21 L621.59,167.01 L622.34,166.84 L623.09,166.71 L623.84,166.61 L624.59,166.56 L625.34,166.55 L626.09,166.60 L626.84,166.69 L627.59,166.85 L628.34,167.07 L629.09,167.36 L629.84,167.73 L630.59,168.19 L631.34,168.74 L632.09,169.40 L632.84,170.17 L633.59,171.05 L634.34,172.04 L635.09,173.15 L635.84,174.36 L636.59,175.67 L637.34,177.08 L638.09,178.56 L638.84,180.12 L639.59,181.74 L640.34,183.40 L641.09,185.10 L641.84,186.82 L642.59,188.55 L643.34,190.27 L644.09,191.97 L644.84,193.63 L645.59,195.24 L646.34,196.80 L647.09,198.28 L647.84,199.68 L648.59,200.99 L649.34,202.20 L650.09,203.29 L650.84,204.26 L651.59,205.09 L652.34,205.79 L653.09,206.37 L653.84,206.84 L654.59,207.21 L655.34,207.51 L656.10,207.74 L656.85,207.91 L657.60,208.03 L658.35,208.09 L659.10,208.08 L659.85,208.02 L660.60,207.90 L661.35,207.76 L662.10,207.60 L662.85,207.46 L663.60,207.34 L664.35,207.28 L665.10,207.26 L665.85,207.32 L666.60,207.45 L667.35,207.66 L668.10,207.98 L668.85,208.41 L669.60,208.96 L670.35,209.63 L671.10,210.42 L671.85,211.32 L672.60,212.31 L673.35,213.37 L674.10,214.49 L674.85,215.67 L675.60,216.89 L676.35,218.16 L677.10,219.47 L677.85,220.84 L678.60,222.27 L679.35,223.76 L680.10,225.29 L680.85,226.86 L681.60,228.43 L682.35,229.98 L683.10,231.47 L683.85,232.84 L684.60,234.05 L685.35,235.06 L686.10,237.20 L686.1,237.2 L687.5,242.8 L688.5,245.9 L692.3,248.2 L694.1,249.3" fill="none" stroke="#f50000" stroke-width="2.7" stroke-linejoin="round"/>
<path d="M759.0,229.0 C759.6,227.9 761.4,223.7 762.9,222.4 C764.4,221.1 765.8,221.5 767.9,221.2 C770.0,220.9 774.0,221.8 775.8,220.7 C777.6,219.6 777.6,217.1 778.7,214.9 C779.8,212.7 780.6,209.6 782.3,207.7 C784.0,205.8 785.5,205.2 788.8,203.3 C792.1,201.4 797.3,198.5 801.9,196.1 C806.5,193.7 812.5,190.2 816.4,188.8 C820.3,187.4 822.7,188.2 825.1,187.4 C827.5,186.6 829.0,185.2 830.9,183.8 C832.8,182.4 834.8,179.1 836.7,179.0 C838.6,178.9 840.1,182.0 842.5,183.3 C844.9,184.6 847.8,184.8 851.2,186.7 C854.6,188.6 858.9,191.9 862.8,194.6 C866.6,197.2 871.4,200.6 874.3,202.6 C877.2,204.6 877.3,204.1 880.0,206.6 C882.7,209.1 886.8,213.7 890.3,217.6 C893.8,221.5 897.2,226.2 900.7,230.0 C904.2,233.8 907.5,236.9 911.0,240.3 C914.5,243.8 917.9,247.6 921.4,250.7 C924.9,253.8 928.2,256.4 931.7,259.0 C935.2,261.6 938.7,264.1 942.1,266.2 C945.5,268.3 949.0,269.7 952.4,271.4 C955.8,273.1 958.7,274.6 962.8,276.6 C966.9,278.6 974.8,282.3 977.2,283.4" fill="none" stroke="#e04b4b" stroke-width="2.45" stroke-dasharray="4.5,3.1"/>
<path d="M694.1,249.3 C695.6,250.0 700.0,253.1 703.2,253.4 C706.4,253.8 709.9,252.4 713.2,251.4 C716.5,250.4 719.8,248.6 723.1,247.3 C726.4,246.1 729.7,245.4 733.0,243.9 C736.3,242.4 740.0,239.9 743.0,238.1 C746.0,236.3 748.6,234.7 751.3,233.2 C754.0,231.7 757.1,229.6 759.0,229.0 C760.9,228.4 759.9,228.1 762.5,229.9 C765.1,231.7 770.8,237.1 774.9,239.9 C779.0,242.7 783.1,243.7 787.3,246.8 C791.4,249.9 795.6,254.5 799.8,258.5 C803.9,262.5 808.1,267.0 812.2,270.9 C816.3,274.8 820.5,278.4 824.6,282.1 C828.7,285.8 833.6,290.1 837.0,293.3 C840.4,296.5 840.3,296.6 845.1,301.1 C849.9,305.6 859.2,315.0 865.6,320.5 C872.0,326.0 877.7,330.0 883.8,334.2 C889.9,338.4 895.9,341.8 902.0,345.6 C908.1,349.4 914.2,353.5 920.3,357.0 C926.4,360.5 932.4,363.8 938.5,366.5 C944.6,369.2 950.2,371.2 956.7,373.4 C963.2,375.6 973.8,378.7 977.2,379.8" fill="none" stroke="#761d4d" stroke-width="2.45" stroke-dasharray="4.5,3.1"/>
<path d="M694.1,249.3 C695.6,250.0 700.0,253.1 703.2,253.4 C706.4,253.8 709.9,252.4 713.2,251.4 C716.5,250.4 719.8,248.6 723.1,247.3 C726.4,246.1 729.7,245.4 733.0,243.9 C736.3,242.4 740.0,239.9 743.0,238.1 C746.0,236.3 748.6,234.7 751.3,233.2 C754.0,231.7 757.4,229.3 759.0,229.0 C760.6,228.7 759.8,228.1 761.2,231.2 C762.6,234.2 765.2,241.5 767.5,247.3 C769.8,253.1 772.4,260.6 774.9,266.0 C777.4,271.4 779.5,274.9 782.4,279.6 C785.3,284.4 789.0,289.7 792.3,294.5 C795.6,299.3 798.9,303.8 802.2,308.2 C805.5,312.6 808.9,316.7 812.2,320.6 C815.5,324.5 819.3,329.2 822.1,331.8 C824.9,334.4 825.7,333.8 829.1,336.5 C832.5,339.2 837.5,344.0 842.8,347.9 C848.1,351.8 854.9,356.1 861.0,359.7 C867.1,363.3 872.5,366.4 879.3,369.5 C886.1,372.6 894.4,375.8 902.0,378.6 C909.6,381.4 917.2,384.0 924.8,386.1 C932.4,388.2 938.9,389.6 947.6,391.2 C956.3,392.8 972.3,394.9 977.2,395.7" fill="none" stroke="#6ca25c" stroke-width="2.45" stroke-dasharray="4.5,3.1"/>
<text transform="translate(41.9,277.3) rotate(-90)" text-anchor="middle" class="axt">Daily deaths</text>
<text x="513.5" y="438.9" text-anchor="middle" class="axt">Date</text>
</svg>
<div class="abs" style="left:939.8px;top:154.6px;width:31.4px;height:31.4px;border-radius:50%;background:#fff;box-shadow:0 0 1.5px 0.5px rgba(0,0,0,0.12)"></div>
<svg class="abs" style="left:0;top:0" width="1024" height="483" viewBox="0 0 1024 483"><g stroke="#6e6e6e" stroke-width="1.6" fill="none"><line x1="950" y1="165.8" x2="961.8" y2="165.8"/><line x1="950" y1="169.75" x2="961.8" y2="169.75"/><line x1="950" y1="173.5" x2="961.8" y2="173.5"/></g><g fill="#6e6e6e"><path d="M955.6,163.3 l1.4,2.5 l-1.4,2.5 l-1.4,-2.5z"/><path d="M958.9,167.2 l1.5,2.55 l-1.5,2.55 l-1.4,-2.55z"/><path d="M952.5,171 l1.4,2.5 l-1.4,2.5 l-1.4,-2.5z"/></g></svg>
<svg class="abs" style="left:0;top:445.2px" width="1024" height="20"><g stroke-width="3">
<line x1="199" y1="10" x2="222" y2="10" stroke="#f50000"/>
<line x1="332" y1="10.2" x2="354.5" y2="10.2" stroke="#ff3a3a" stroke-width="1"/>
<line x1="486" y1="10" x2="510" y2="10" stroke="#761d4d" stroke-width="2.7" stroke-dasharray="4.3,2.3"/>
<line x1="623" y1="10" x2="647" y2="10" stroke="#e04b4b" stroke-width="2.7" stroke-dasharray="4.3,2.3"/>
<line x1="705.5" y1="10" x2="729.5" y2="10" stroke="#6ca25c" stroke-width="2.7" stroke-dasharray="4.3,2.3"/>
</g></svg>
<div class="abs leg" style="left:235.3px">Total (smoothed)</div>
<div class="abs leg" style="left:366.7px">Reported (smoothed)</div>
<div class="abs leg" style="left:521px">Current projection</div>
<div class="abs leg" style="left:658.8px">Worse</div>
<div class="abs leg" style="left:741.5px">Universal masks</div>
<div class="abs foot">All deaths specific to COVID-19 patients.</div>
<div class="abs rb"></div>
</body></html>
